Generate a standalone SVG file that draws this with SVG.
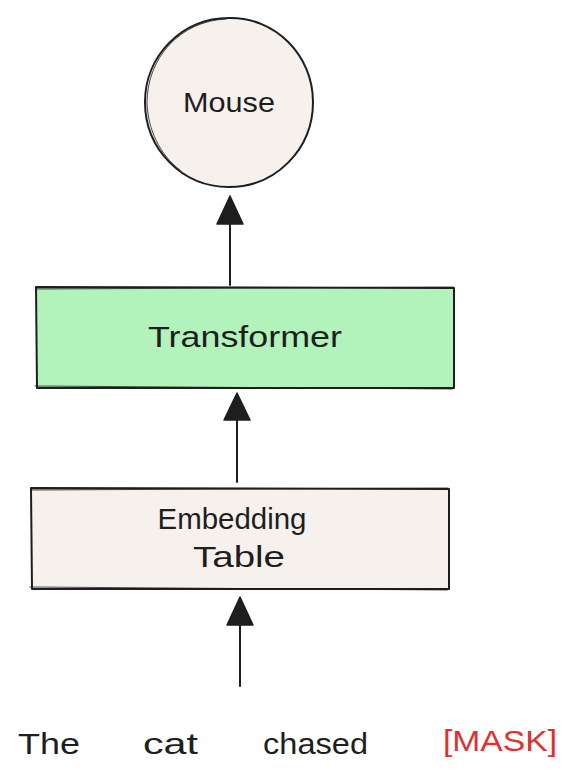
<svg xmlns="http://www.w3.org/2000/svg" width="578" height="783" viewBox="0 0 578 783">
<style>
.sk{fill:none;stroke:#1e1e1e;stroke-width:2;stroke-linecap:round;stroke-linejoin:round}
.sk2{fill:none;stroke:#1e1e1e;stroke-width:1;stroke-linecap:round;opacity:0.8}
.t{font-family:"Liberation Sans","DejaVu Sans",sans-serif;fill:#1e1e1e}
.ah{fill:#1e1e1e;stroke:#1e1e1e;stroke-width:1.5;stroke-linejoin:round}
</style>
<rect width="578" height="783" fill="#ffffff"/>
<g id="node-mouse">
<circle cx="229" cy="102" r="84" fill="#f7f1ee"/>
<path class="sk" d="M229,18 C275,17 313,55 313,102 C313,149 276,187 229,187 C182,187 145,149 145,102 C145,56 182,18 229,18 Z"/>
<path class="sk2" d="M226,19 C180,21 147,58 147,103 C148,130 160,155 180,170"/>
<text class="t" x="229" y="112" font-size="28" text-anchor="middle" textLength="92" lengthAdjust="spacingAndGlyphs">Mouse</text>
</g>
<g id="node-transformer">
<rect x="36" y="287" width="418" height="101" fill="#b2f2bb"/>
<path class="sk" d="M36,287 L454,288 L454,388 L37,388 Z"/>
<path class="sk2" d="M37,289 L453,287 M35,386 L452,389"/>
<text class="t" x="245" y="347" font-size="29" text-anchor="middle" textLength="194" lengthAdjust="spacingAndGlyphs">Transformer</text>
</g>
<g id="node-embedding">
<rect x="31" y="488" width="418" height="101" fill="#f7f1ee"/>
<path class="sk" d="M31,488 L449,489 L449,589 L32,589 Z"/>
<path class="sk2" d="M32,490 L448,488 M30,587 L447,590"/>
<text class="t" x="232" y="529" font-size="29" text-anchor="middle" textLength="149" lengthAdjust="spacingAndGlyphs">Embedding</text>
<text class="t" x="239" y="567" font-size="29" text-anchor="middle" textLength="92" lengthAdjust="spacingAndGlyphs">Table</text>
</g>
<g id="connectors">
<path class="sk" d="M230,285 L230,224"/>
<polygon class="ah" points="230,196 243,224 217,224"/>
<path class="sk" d="M237,482 L237,420"/>
<polygon class="ah" points="237,393 250,420 224,420"/>
<path class="sk" d="M240,686 L240,625"/>
<polygon class="ah" points="240,597 253,625 227,625"/>
</g>
<g id="tokens">
<text class="t" x="18" y="754" font-size="30" textLength="62" lengthAdjust="spacingAndGlyphs">The</text>
<text class="t" x="143" y="754" font-size="30" textLength="55" lengthAdjust="spacingAndGlyphs">cat</text>
<text class="t" x="263" y="754" font-size="30" textLength="105" lengthAdjust="spacingAndGlyphs">chased</text>
<text class="t" x="443" y="751" font-size="30" fill="#e03131" style="fill:#e03131" textLength="114" lengthAdjust="spacingAndGlyphs">[MASK]</text>
</g>
</svg>
